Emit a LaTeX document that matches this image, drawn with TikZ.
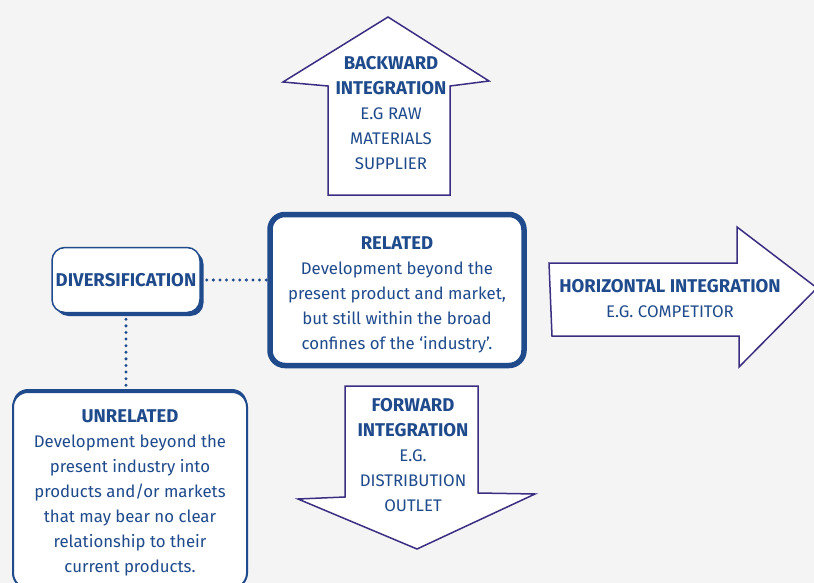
\documentclass[tikz,border=0pt]{standalone}
\usepackage{fontspec}
\setmainfont{Fira Sans}
\usetikzlibrary{shadows}
\definecolor{navy}{RGB}{31,74,140}
\definecolor{arrowline}{RGB}{58,46,130}
\definecolor{backgr}{RGB}{244,244,244}
\newcommand{\headtxt}[1]{{\fontsize{18.5}{25}\selectfont\bfseries #1}}

\begin{document}
\begin{tikzpicture}[x=1pt,y=-1pt,
  txt/.style={text=navy,align=center,font=\fontsize{16.8}{25}\selectfont},
  bigarrow/.style={draw=arrowline,fill=white,line width=1.5pt,line join=miter},
  dots/.style={draw=navy,line width=3.3pt,line cap=round,dash pattern=on 0pt off 6.6pt}]
\useasboundingbox (0,0) rectangle (814,583);
\fill[backgr] (0,0) rectangle (814,583);
\clip (0,0) rectangle (814,583);

% the three big arrows
\draw[bigarrow] (388,17) -- (489,81) -- (450,86) -- (450,195) -- (328,195) -- (328,86) -- (283,82) -- cycle;
\draw[bigarrow] (549,263) -- (737,263) -- (737,227) -- (817,288) -- (739,367) -- (739,336) -- (552,336) -- cycle;
\draw[bigarrow] (345,386) -- (478,386) -- (478,493) -- (535,494) -- (417,549) -- (298,499) -- (345,497) -- cycle;

\node[txt] (backward) at (391,113) {\headtxt{BACKWARD}\\\headtxt{INTEGRATION}\\E.G RAW\\MATERIALS\\SUPPLIER};
\node[txt] (horizontal) at (670,299) {\headtxt{HORIZONTAL INTEGRATION}\\E.G. COMPETITOR};
\node[txt] (forward) at (413,455) {\headtxt{FORWARD}\\\headtxt{INTEGRATION}\\E.G.\\DISTRIBUTION\\OUTLET};

% boxes
\node[txt,draw=navy,fill=white,line width=1.5pt,rounded corners=13pt,
  minimum width=148pt,minimum height=65pt,
  general shadow={fill=navy,shadow xshift=3.5pt,shadow yshift=-3.5pt}] (div) at (126,280) {\headtxt{DIVERSIFICATION}};
\node[txt,draw=navy,fill=white,line width=5.5pt,rounded corners=15pt,
  minimum width=254pt,minimum height=151pt] (rel) at (397,290)
  {\rule{0pt}{22pt}\headtxt{RELATED}\\Development beyond the\\present product and market,\\but still within the broad\\confines of the ‘industry’.};
\node[txt,draw=navy,fill=white,line width=2pt,rounded corners=15pt,
  minimum width=234pt,minimum height=196pt,
  general shadow={fill=navy,shadow yshift=3pt}] (unrel) at (130,490)
  {\rule{0pt}{18pt}\headtxt{UNRELATED}\\Development beyond the\\present industry into\\products and/or markets\\that may bear no clear\\relationship to their\\current products.};

\draw[dots] ([xshift=6pt]div.east) -- (div.east -| rel.west);
\draw[dots] ([yshift=-6pt]div.south) -- ([yshift=3pt]div.south |- unrel.north);
\end{tikzpicture}
\end{document}
